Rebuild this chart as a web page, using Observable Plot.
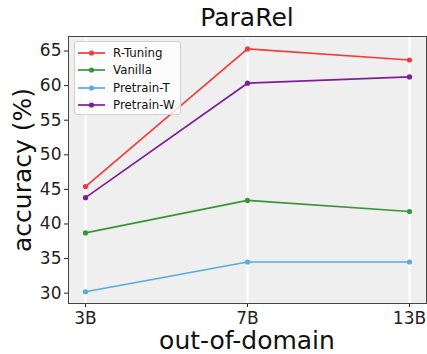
<!DOCTYPE html>
<html>
<head>
<meta charset="utf-8">
<script src="https://cdn.jsdelivr.net/npm/d3@7"></script>
<script src="https://cdn.jsdelivr.net/npm/@observablehq/plot@0.6"></script>
<style>
  html, body { margin: 0; padding: 0; background: white; }
  #wrap { position: relative; width: 427px; height: 354px; font-family: "DejaVu Sans", sans-serif; color: #111; }
  .ov { position: absolute; white-space: nowrap; }
  #title { left: 68px; width: 358px; top: 3px; text-align: center; font-size: 25px; }
  #xlabel { left: 68px; width: 358px; top: 326px; text-align: center; font-size: 25px; line-height: 30px; }
  #ylabel { left: 22px; top: 170px; font-size: 25px; transform: translate(-50%, -50%) rotate(-90deg); }
  #legend { left: 74px; top: 41px; width: 107px; height: 74px; background: rgba(255,255,255,0.8);
            border: 1px solid #d0d0d0; border-radius: 3px; box-sizing: border-box; }
  .row { position: absolute; left: 0; height: 17px; display: flex; align-items: center; font-size: 11.8px; }
  .row svg { margin-left: 3px; margin-right: 8px; }
</style>
</head>
<body>
<div id="wrap">
  <div id="chart"></div>
  <div class="ov" id="title">ParaRel</div>
  <div class="ov" id="xlabel">out-of-domain</div>
  <div class="ov" id="ylabel">accuracy (%)</div>
  <div class="ov" id="legend"></div>
</div>
<script>
const categories = ["3B", "7B", "13B"];
const seriesNames = ["R-Tuning", "Vanilla", "Pretrain-T", "Pretrain-W"];
const seriesColors = ["#f23c3a", "#3a943a", "#5aa9e0", "#7e1e9c"];
const rTuning = [45.4, 65.3, 63.7];
const vanilla = [38.7, 43.4, 41.8];
const pretrainT = [30.2, 34.5, 34.5];
const pretrainW = [43.8, 60.35, 61.25];
const yTicks = [30, 35, 40, 45, 50, 55, 60, 65];

const seriesValues = [rTuning, vanilla, pretrainT, pretrainW];
const data = [];
seriesNames.forEach((name, i) => {
  categories.forEach((c, j) => data.push({series: name, cat: c, value: seriesValues[i][j]}));
});

const chart = Plot.plot({
  width: 427,
  height: 354,
  marginLeft: 68,
  marginRight: 1,
  marginTop: 36,
  marginBottom: 51,
  style: {fontFamily: "DejaVu Sans, sans-serif", fontSize: "17px", color: "#222", background: "white", overflow: "visible"},
  x: {type: "point", domain: categories, padding: 0.1, label: null},
  y: {domain: [28.5, 67.1], label: null},
  color: {domain: seriesNames, range: seriesColors},
  marks: [
    Plot.frame({fill: "#efefef", stroke: null}),
    Plot.gridX({stroke: "white", strokeOpacity: 1, strokeWidth: 2}),
    Plot.line(data, {x: "cat", y: "value", z: "series", stroke: "series", strokeWidth: 1.7}),
    Plot.dot(data, {x: "cat", y: "value", fill: "series", r: 2.6}),
    Plot.axisX({tickSize: 4, tickPadding: 4, fontSize: 17, label: null}),
    Plot.axisY({ticks: yTicks, tickSize: 4, tickPadding: 3, fontSize: 17, label: null}),
    Plot.frame({stroke: "#444", strokeWidth: 1})
  ]
});
document.getElementById("chart").appendChild(chart);

const legend = document.getElementById("legend");
seriesNames.forEach((name, i) => {
  const row = document.createElement("div");
  row.className = "row";
  row.style.top = (2 + i * 17.5) + "px";
  row.innerHTML = `<svg width="27" height="10"><line x1="0" x2="27" y1="5" y2="5" stroke="${seriesColors[i]}" stroke-width="1.7"/><circle cx="13.5" cy="5" r="2.6" fill="${seriesColors[i]}"/></svg><span>${name}</span>`;
  legend.appendChild(row);
});
</script>
</body>
</html>
